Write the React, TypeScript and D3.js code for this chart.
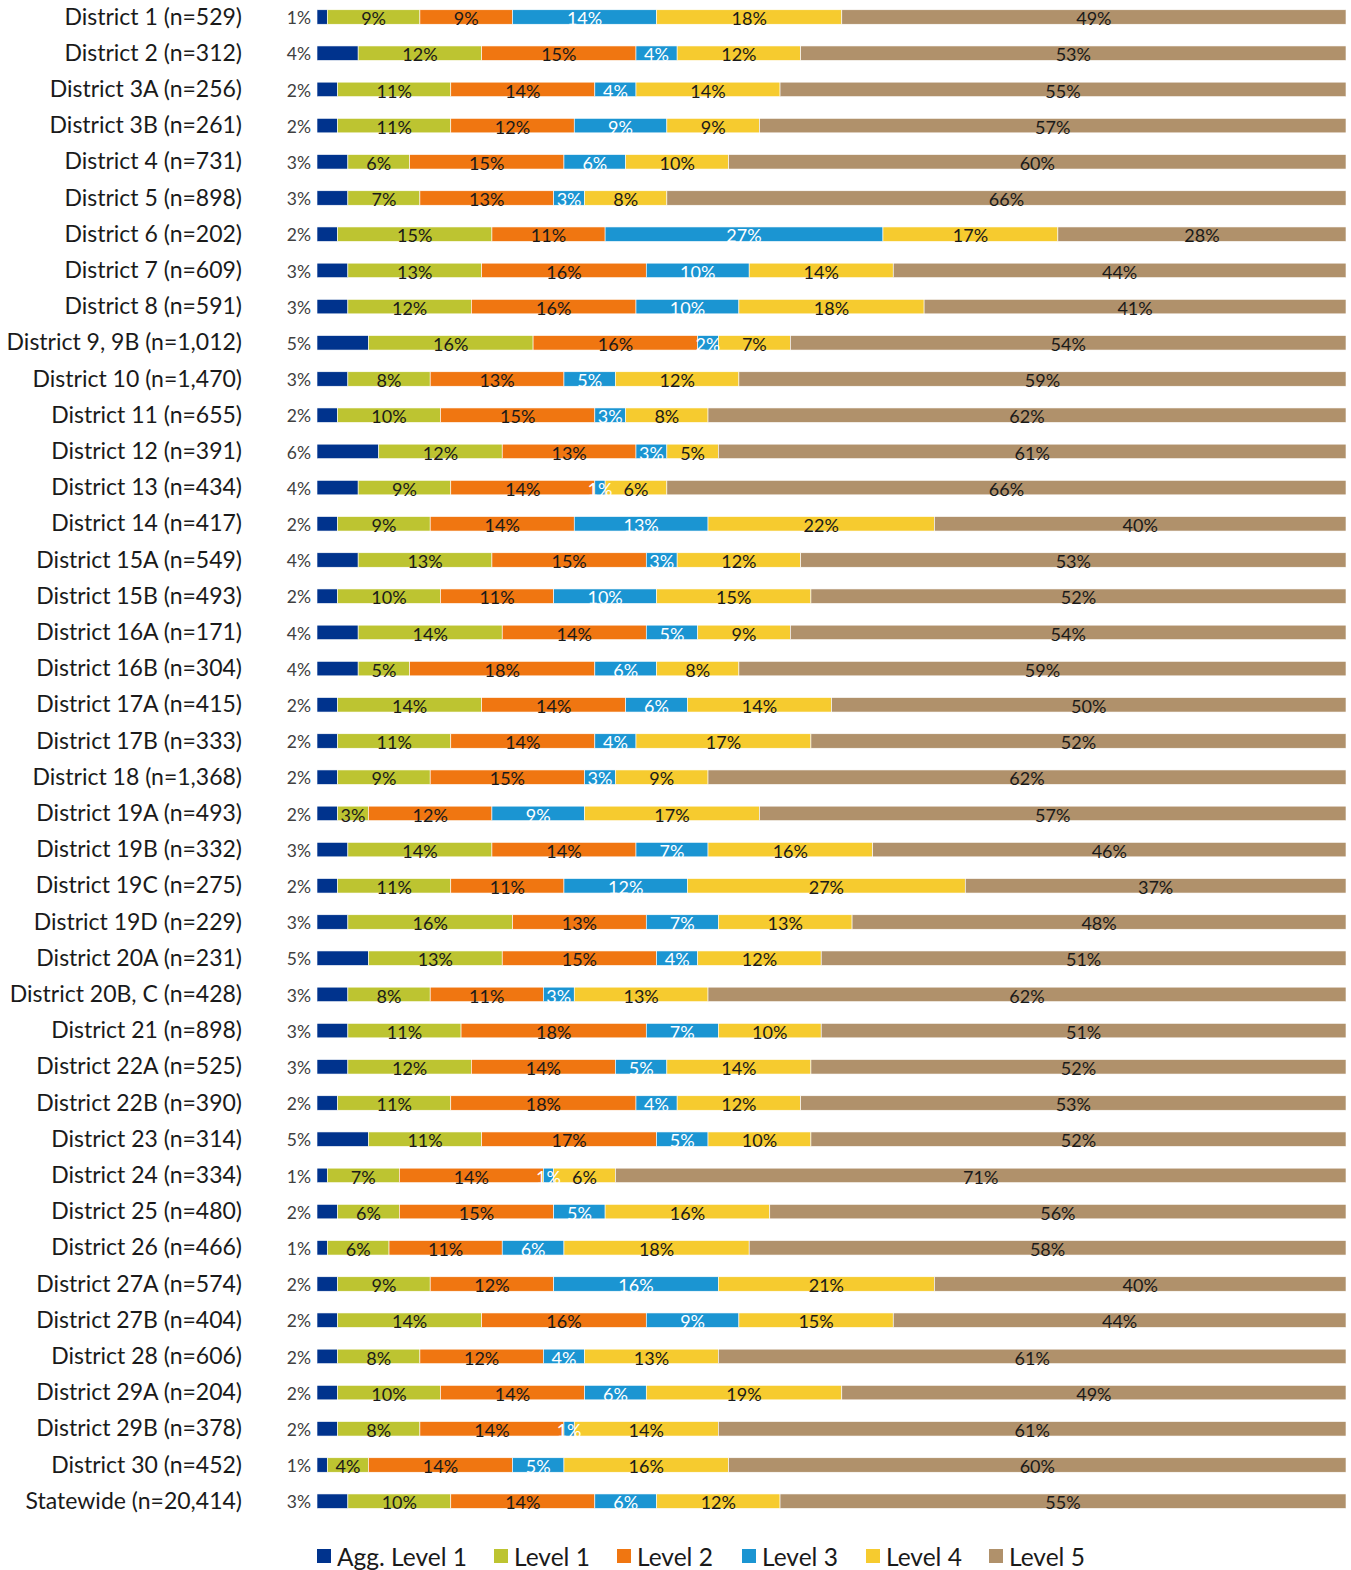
import React from "react";
import * as d3 from "d3";

const categories = [
  "District 1 (n=529)", "District 2 (n=312)", "District 3A (n=256)", "District 3B (n=261)",
  "District 4 (n=731)", "District 5 (n=898)", "District 6 (n=202)", "District 7 (n=609)",
  "District 8 (n=591)", "District 9, 9B (n=1,012)", "District 10 (n=1,470)", "District 11 (n=655)",
  "District 12 (n=391)", "District 13 (n=434)", "District 14 (n=417)", "District 15A (n=549)",
  "District 15B (n=493)", "District 16A (n=171)", "District 16B (n=304)", "District 17A (n=415)",
  "District 17B (n=333)", "District 18 (n=1,368)", "District 19A (n=493)", "District 19B (n=332)",
  "District 19C (n=275)", "District 19D (n=229)", "District 20A (n=231)", "District 20B, C (n=428)",
  "District 21 (n=898)", "District 22A (n=525)", "District 22B (n=390)", "District 23 (n=314)",
  "District 24 (n=334)", "District 25 (n=480)", "District 26 (n=466)", "District 27A (n=574)",
  "District 27B (n=404)", "District 28 (n=606)", "District 29A (n=204)", "District 29B (n=378)",
  "District 30 (n=452)", "Statewide (n=20,414)",
];

const seriesNames = ["Agg. Level 1", "Level 1", "Level 2", "Level 3", "Level 4", "Level 5"];

const aggLevel1 = [1,4,2,2,3,3,2,3,3,5,3,2,6,4,2,4,2,4,4,2,2,2,2,3,2,3,5,3,3,3,2,5,1,2,1,2,2,2,2,2,1,3];
const level1 = [9,12,11,11,6,7,15,13,12,16,8,10,12,9,9,13,10,14,5,14,11,9,3,14,11,16,13,8,11,12,11,11,7,6,6,9,14,8,10,8,4,10];
const level2 = [9,15,14,12,15,13,11,16,16,16,13,15,13,14,14,15,11,14,18,14,14,15,12,14,11,13,15,11,18,14,18,17,14,15,11,12,16,12,14,14,14,14];
const level3 = [14,4,4,9,6,3,27,10,10,2,5,3,3,1,13,3,10,5,6,6,4,3,9,7,12,7,4,3,7,5,4,5,1,5,6,16,9,4,6,1,5,6];
const level4 = [18,12,14,9,10,8,17,14,18,7,12,8,5,6,22,12,15,9,8,14,17,9,17,16,27,13,12,13,10,14,12,10,6,16,18,21,15,13,19,14,16,12];
const level5 = [49,53,55,57,60,66,28,44,41,54,59,62,61,66,40,53,52,54,59,50,52,62,57,46,37,48,51,62,51,52,53,52,71,56,58,40,44,61,49,61,60,55];

const colors = ["#00338D", "#BDC431", "#F07611", "#1B95D2", "#F6CB2F", "#B0916B"];
const labelColors = ["#404040", "#1a1a1a", "#1a1a1a", "#ffffff", "#1a1a1a", "#1a1a1a"];

const W = 1351;
const H = 1570;
const FONT = "Lato, 'Open Sans', sans-serif";

export default function App() {
  const seriesData = [aggLevel1, level1, level2, level3, level4, level5];
  const rows = categories.map((c, i) => {
    const r: any = { cat: c };
    seriesNames.forEach((s, j) => (r[s] = seriesData[j][i]));
    return r;
  });
  const stacked = d3.stack<any>().keys(seriesNames).offset(d3.stackOffsetExpand)(rows);

  const x = d3.scaleLinear().domain([0, 1]).range([317, 1346]);
  const step = 36.2;
  const first = 17;
  const y = d3
    .scaleBand<string>()
    .domain(categories)
    .range([first - step / 2, first + step * (categories.length - 0.5)])
    .paddingInner(0.6)
    .paddingOuter(0.3);
  const bw = y.bandwidth();

  const legendX = [317, 494, 617, 742, 866, 989];

  return (
    <svg width={W} height={H} style={{ position: "absolute", left: 0, top: 0 }} fontFamily={FONT}>
      <rect width={W} height={H} fill="#fff" />
      {categories.map((c) => (
        <text key={c} x={242} y={(y(c) as number) + bw / 2 + 7.5} textAnchor="end" fontSize={23} fill="#1a1a1a">
          {c}
        </text>
      ))}
      {stacked.map((layer, j) => (
        <g key={layer.key}>
          {layer.map((d, i) => {
            const cat = categories[i];
            const y0 = y(cat) as number;
            const x0 = x(d[0]);
            const x1 = x(d[1]);
            return (
              <rect key={cat} x={x0} y={y0} width={Math.max(0, x1 - x0)} height={bw} fill={colors[j]} stroke="#ffffff" strokeWidth={0.6} />
            );
          })}
        </g>
      ))}
      {stacked.map((layer, j) => (
        <g key={"l" + layer.key}>
          {layer.map((d, i) => {
            const cat = categories[i];
            const y0 = y(cat) as number;
            const v = seriesData[j][i];
            if (j === 0) {
              return (
                <text key={cat} x={311} y={y0 + bw} textAnchor="end" fontSize={17.5} fill={labelColors[0]}>
                  {v}%
                </text>
              );
            }
            return (
              <text key={cat} x={(x(d[0]) + x(d[1])) / 2} y={y0 + bw + 1} textAnchor="middle" fontSize={18} fill={labelColors[j]}>
                {v}%
              </text>
            );
          })}
        </g>
      ))}
      {seriesNames.map((s, j) => (
        <g key={"leg" + s} transform={`translate(${legendX[j]},1549)`}>
          <rect x={0} y={0} width={14} height={14} fill={colors[j]} />
          <text x={j === 0 ? 20 : 20} y={16.5} fontSize={24.5} fill="#1a1a1a">
            {s}
          </text>
        </g>
      ))}
    </svg>
  );
}
